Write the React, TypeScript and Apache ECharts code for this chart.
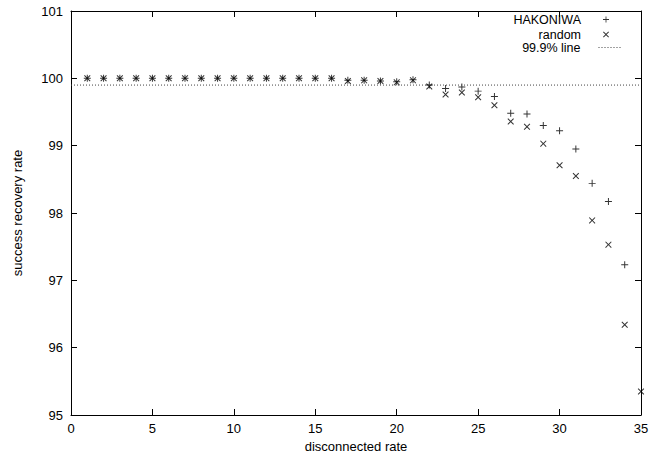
import React, { useEffect, useRef } from "react";
import * as echarts from "echarts";

const xValues = [1,2,3,4,5,6,7,8,9,10,11,12,13,14,15,16,17,18,19,20,21,22,23,24,25,26,27,28,29,30,31,32,33,34,35];
const hakoniwa = [100,100,100,100,100,100,100,100,100,100,100,100,100,100,100,100,99.97,99.97,99.96,99.95,99.98,99.9,99.85,99.87,99.81,99.73,99.48,99.47,99.30,99.22,98.95,98.44,98.17,97.23,null];
const random = [100,100,100,100,100,100,100,100,100,100,100,100,100,100,100,100,99.96,99.97,99.96,99.94,99.97,99.88,99.76,99.79,99.72,99.60,99.36,99.28,99.03,98.71,98.55,97.89,97.53,96.34,95.35];
const thresholdX = [0, 35];
const thresholdY = 99.9;

const PLUS = "path://M43,0 L57,0 L57,43 L100,43 L100,57 L57,57 L57,100 L43,100 L43,57 L0,57 L0,43 L43,43 Z";
const CROSS = "path://M0,11 L11,0 L50,39 L89,0 L100,11 L61,50 L100,89 L89,100 L50,61 L11,100 L0,89 L39,50 Z";
const FONT = "Liberation Sans";
const FS = 13;
const LFS = 12.5;

export default function App() {
  const ref = useRef<HTMLDivElement>(null);
  useEffect(() => {
    const chart = echarts.init(ref.current!, null, { renderer: "svg" });
    const axisCommon = {
      axisLine: { show: true, onZero: false, lineStyle: { color: "#000", width: 1 } },
      axisTick: { show: true, inside: true, length: 6, lineStyle: { color: "#000" } },
      splitLine: { show: false },
    };
    const txt = { color: "#000", fontSize: FS, fontFamily: FONT };
    const ltxt = { color: "#000", fontSize: LFS, fontFamily: FONT };
    chart.setOption({
      animation: false,
      backgroundColor: "#fff",
      textStyle: { fontFamily: FONT },
      grid: { left: 71, right: 20, top: 11, bottom: 41 },
      xAxis: [
        {
          ...axisCommon,
          type: "value", min: 0, max: 35, interval: 5, position: "bottom",
          name: "disconnected rate", nameLocation: "middle", nameGap: 25,
          nameTextStyle: txt,
          axisLabel: { ...txt, margin: 7 },
        },
        {
          ...axisCommon,
          type: "value", min: 0, max: 35, interval: 5, position: "top",
          axisLabel: { show: false },
        },
      ],
      yAxis: [
        {
          ...axisCommon,
          type: "value", min: 95, max: 101, interval: 1, position: "left",
          name: "success recovery rate", nameLocation: "middle", nameGap: 47,
          nameTextStyle: txt,
          axisLabel: { ...txt, margin: 8 },
        },
        {
          ...axisCommon,
          type: "value", min: 95, max: 101, interval: 1, position: "right",
          axisLabel: { show: false },
        },
      ],
      legend: [
        {
          data: [{ name: "HAKONIWA", icon: PLUS }],
          right: 52, top: 13, padding: 0, align: "right", itemWidth: 6, itemHeight: 6,
          textStyle: { ...ltxt, padding: [0, 17, 0, 0] },
          selectedMode: false,
        },
        {
          data: [{ name: "random", icon: CROSS }],
          right: 52, top: 28, padding: 0, align: "right", itemWidth: 6, itemHeight: 6,
          textStyle: { ...ltxt, padding: [0, 17, 0, 0] },
          selectedMode: false,
        },
        {
          data: [{ name: "99.9% line" }],
          right: 38, top: 41, padding: 0, align: "right", itemWidth: 24, itemHeight: 10,
          itemStyle: { opacity: 0 },
          lineStyle: { color: "#444", width: 1, type: [1, 2] },
          textStyle: { ...ltxt, padding: [0, 13, 0, 0] },
          selectedMode: false,
        },
      ],
      series: [
        {
          name: "HAKONIWA", type: "scatter", symbol: PLUS, symbolSize: 7,
          itemStyle: { color: "#000" },
          data: xValues.map((x, i) => [x, hakoniwa[i]]).filter((d) => d[1] !== null),
        },
        {
          name: "random", type: "scatter", symbol: CROSS, symbolSize: 6.5,
          itemStyle: { color: "#000" },
          data: xValues.map((x, i) => [x, random[i]]),
        },
        {
          name: "99.9% line", type: "line", symbol: "none",
          lineStyle: { color: "#444", width: 1, type: [1, 2] },
          itemStyle: { color: "#444" },
          data: thresholdX.map((x) => [x, thresholdY]),
        },
      ],
    });
    return () => chart.dispose();
  }, []);
  return <div ref={ref} style={{ width: 661, height: 458, position: "absolute", left: 0, top: 0 }} />;
}
